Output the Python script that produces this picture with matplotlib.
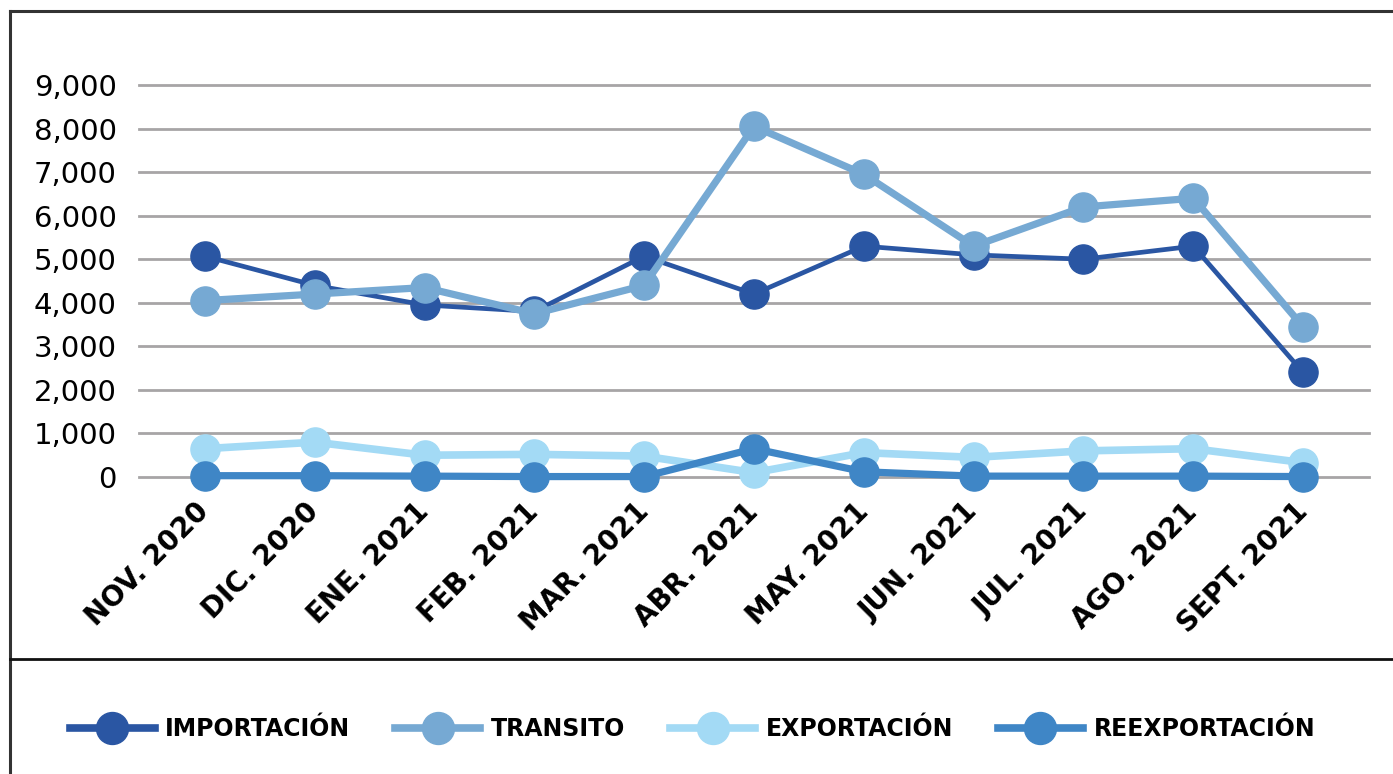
import matplotlib
matplotlib.use("Agg")
import matplotlib.pyplot as plt
from matplotlib.lines import Line2D
from matplotlib.ticker import FuncFormatter

months = ["NOV. 2020", "DIC. 2020", "ENE. 2021", "FEB. 2021", "MAR. 2021", "ABR. 2021",
          "MAY. 2021", "JUN. 2021", "JUL. 2021", "AGO. 2021", "SEPT. 2021"]
importacion = [5070, 4400, 3950, 3800, 5070, 4200, 5300, 5100, 5000, 5300, 2400]
transito = [4050, 4200, 4350, 3750, 4400, 8050, 6950, 5300, 6200, 6400, 3450]
exportacion = [650, 800, 500, 520, 480, 100, 560, 450, 600, 650, 330]
reexportacion = [30, 30, 20, 10, 10, 650, 120, 20, 20, 20, 10]
yticks = [0, 1000, 2000, 3000, 4000, 5000, 6000, 7000, 8000, 9000]

series = [
    ("IMPORTACIÓN", importacion, "#2a56a3", 3.4),
    ("TRANSITO", transito, "#76a9d3", 5.2),
    ("EXPORTACIÓN", exportacion, "#a3daf5", 5.5),
    ("REEXPORTACIÓN", reexportacion, "#3f86c6", 5.2),
]

fig = plt.figure(figsize=(13.93, 7.74), dpi=100)
ax = fig.add_axes([139/1393, 1 - 477/774, (1369-139)/1393, (477-85)/774])

x = list(range(len(months)))
handles = []
for i, (name, vals, col, lw) in enumerate(series):
    ax.plot(x, vals, color=col, lw=lw, marker="o", markersize=21,
            markerfacecolor=col, markeredgecolor=col, clip_on=False, zorder=3 + i)
    handles.append(Line2D([], [], color=col, lw=5.5, marker="o", markersize=23,
                          markerfacecolor=col, markeredgecolor=col, label=name))

ax.set_xlim(-0.6, 10.6)
ax.set_ylim(0, 9000)
ax.set_yticks(yticks)
ax.yaxis.set_major_formatter(FuncFormatter(lambda v, p: f"{int(v):,}"))
ax.grid(axis="y", color="#a7a5a6", lw=2.0)
for gl in ax.get_ygridlines():
    gl.set_clip_on(False)
ax.set_axisbelow(True)
for s in ax.spines.values():
    s.set_visible(False)
ax.tick_params(axis="both", length=0)
ax.tick_params(axis="y", pad=16, labelsize=21, labelcolor="black")
ax.set_xticks(x)
ax.set_xticklabels(months, rotation=45, ha="right", va="center", rotation_mode="anchor",
                   fontsize=20, fontweight="bold")
ax.tick_params(axis="x", pad=22)

fig.legend(handles=handles, loc="center", bbox_to_anchor=(0.497, 1 - 729/774), ncol=4,
           frameon=False, prop={"weight": "bold", "size": 17}, handlelength=3.6,
           handletextpad=0.45, columnspacing=1.9)

# frame lines
fig.add_artist(Line2D([10/1393, 10/1393], [0, 1 - 11/774], color="#333333", lw=2.2,
                      transform=fig.transFigure))
fig.add_artist(Line2D([10/1393, 1], [1 - 11/774, 1 - 11/774], color="#333333", lw=2.2,
                      transform=fig.transFigure))
fig.add_artist(Line2D([10/1393, 1], [1 - 659/774, 1 - 659/774], color="#111111", lw=2.0,
                      transform=fig.transFigure))

fig.savefig("out.png", dpi=100)
